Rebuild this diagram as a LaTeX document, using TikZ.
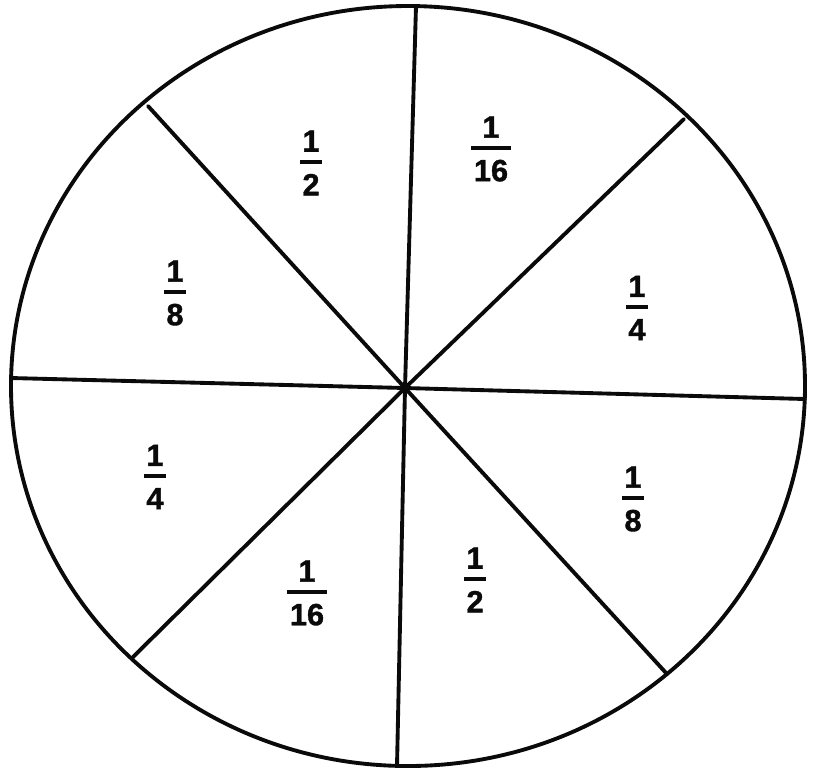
\documentclass[tikz,border=0pt]{standalone}
\usepackage{fontspec}
\setmainfont{Liberation Sans}
\newfontfamily\lblfont{Liberation Sans Bold}[FakeBold=1.2]
\usepackage{tikz}
\usetikzlibrary{calc}
\definecolor{wheel-ink}{HTML}{0A0A0A}

% stacked fraction with a heavy bar
\newcommand{\fraclabel}[2]{%
  \setbox0\hbox{#2}%
  \vbox{\offinterlineskip\halign{\hfil##\hfil\cr #1\cr\noalign{\kern4.6pt}%
    \rule{\dimexpr\wd0+3pt\relax}{2.2pt}\cr\noalign{\kern5.8pt}#2\cr}}}

\begin{document}
\begin{tikzpicture}[x=0.02cm, y=-0.02cm,
    rim/.style={wheel-ink, line width=2.2pt},
    spoke/.style={wheel-ink, line width=2.2pt, line cap=round},
    fraclbl/.style={font=\lblfont\fontsize{17.5}{21}\selectfont, text=wheel-ink, inner sep=0pt}]
    \useasboundingbox (0,0) rectangle (817,769);

    % Outer rim
    \draw[rim] (408,386) ellipse [x radius=397, y radius=380];

    % Hub and rim points of the spokes
    \coordinate (hub) at (405,388);
    \coordinate (n)  at (416,6);
    \coordinate (s)  at (397,766);
    \coordinate (w)  at (11,378);
    \coordinate (e)  at (805,399);
    \coordinate (nw) at (148,106);
    \coordinate (se) at (667,674);
    \coordinate (ne) at (684,119);
    \coordinate (sw) at (132,658);

    % Draw the spokes
    \foreach \p in {n,s,w,e,nw,se,ne,sw} {
        \draw[spoke] (hub) -- (\p);
    }

    % Fractions in the sectors
    \foreach \name/\x/\y/\num/\den in {%
        halfA/311/163/1/2, sixteenthA/491/149/1/16,
        eighthA/175/293/1/8, quarterA/637/308/1/4,
        quarterB/155/477/1/4, eighthB/633/499/1/8,
        sixteenthB/307/593/1/16, halfB/475/580/1/2} {
        \node[fraclbl] (\name) at (\x,\y) {\fraclabel{\num}{\den}};
    }
\end{tikzpicture}
\end{document}
